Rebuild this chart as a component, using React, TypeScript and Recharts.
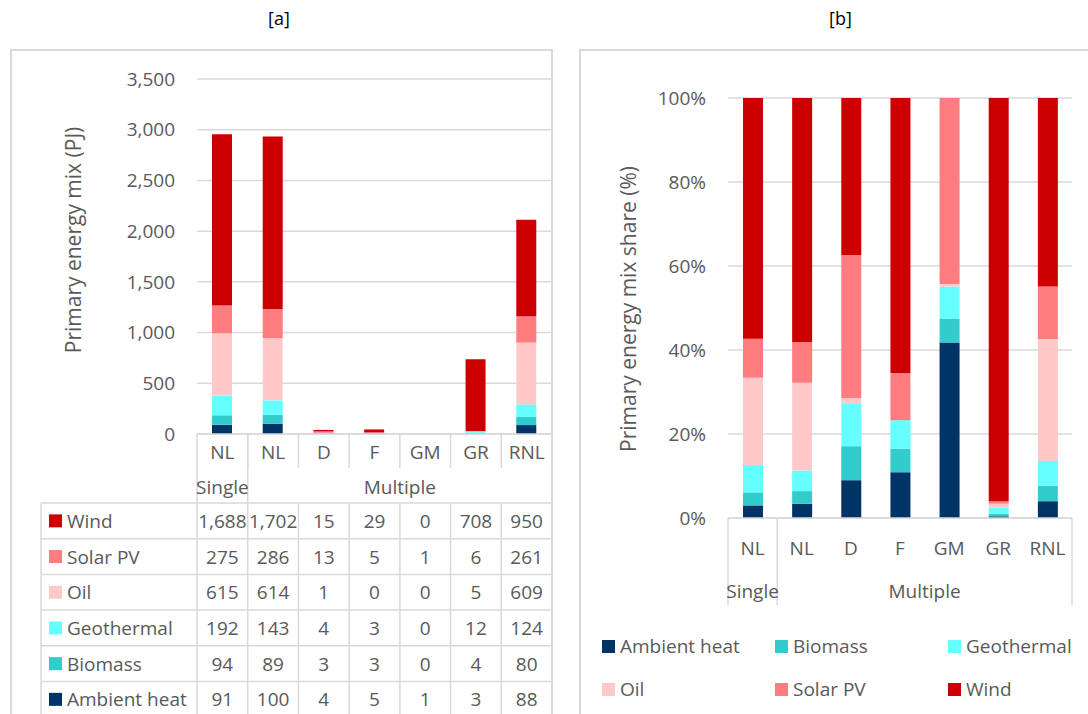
import { Bar, BarChart, CartesianGrid, XAxis, YAxis } from "recharts";

const GRID = "#d9d9d9";
const TEXT = "#595959";
const FONT = "'Open Sans', sans-serif";

const categories = ["NL", "NL", "D", "F", "GM", "GR", "RNL"];
const groups = ["Single", "Multiple"];

// stacking order, bottom to top
const series = [
  { key: "ambient", name: "Ambient heat", color: "#003366" },
  { key: "biomass", name: "Biomass", color: "#33CCCC" },
  { key: "geothermal", name: "Geothermal", color: "#66FFFF" },
  { key: "oil", name: "Oil", color: "#FFC9C9" },
  { key: "solar", name: "Solar PV", color: "#FF7C80" },
  { key: "wind", name: "Wind", color: "#CC0000" },
];

// [a] primary energy mix, PJ
const windPJ = [1688, 1702, 15, 29, 0, 708, 950];
const solarPJ = [275, 286, 13, 5, 1, 6, 261];
const oilPJ = [615, 614, 1, 0, 0, 5, 609];
const geothermalPJ = [192, 143, 4, 3, 0, 12, 124];
const biomassPJ = [94, 89, 3, 3, 0, 4, 80];
const ambientPJ = [91, 100, 4, 5, 1, 3, 88];

// [b] shares, %
const windShare = [57.3, 58.1, 37.4, 65.5, 0, 96.0, 44.9];
const solarShare = [9.3, 9.7, 34.0, 11.2, 44.3, 0.6, 12.5];
const oilShare = [20.8, 20.9, 1.3, 0, 0.6, 0.9, 29.0];
const geothermalShare = [6.5, 4.9, 10.2, 6.8, 7.6, 1.5, 5.9];
const biomassShare = [3.1, 3.0, 8.1, 5.6, 5.7, 0.6, 3.7];
const ambientShare = [3.0, 3.4, 9.0, 10.9, 41.8, 0.4, 4.0];

const pjTicks = [0, 500, 1000, 1500, 2000, 2500, 3000, 3500];
const shareTicks = [0, 20, 40, 60, 80, 100];

const pjBy: Record<string, number[]> = {
  ambient: ambientPJ,
  biomass: biomassPJ,
  geothermal: geothermalPJ,
  oil: oilPJ,
  solar: solarPJ,
  wind: windPJ,
};
const shareBy: Record<string, number[]> = {
  ambient: ambientShare,
  biomass: biomassShare,
  geothermal: geothermalShare,
  oil: oilShare,
  solar: solarShare,
  wind: windShare,
};

const build = (src: Record<string, number[]>) =>
  categories.map((_, i) => {
    const row: Record<string, number | string> = { id: String(i) };
    series.forEach((s) => (row[s.key] = src[s.key][i]));
    return row;
  });

const dataA = build(pjBy);
const dataB = build(shareBy);

// panel [a] geometry (chart-local)
const A_W = 541;
const A_H = 664;
const A_YW = 186;
const A_TOP = 29;
const A_AXIS = 384;
const A_BAND = (A_W - A_YW) / 7;
const ROW_TOP = 453;
const ROW_H = 35.7;
const TABLE_LEFT = 30;

// panel [b] geometry
const B_W = 508;
const B_H = 664;
const B_YW = 148;
const B_TOP = 48;
const B_RIGHT = 16;
const B_AXIS = 468;
const B_BAND = (B_W - B_YW - B_RIGHT) / 7;

const fmt = (v: number) => v.toLocaleString("en-US");

function TableTick(props: any) {
  const { x, payload } = props;
  const i: number = props.index ?? payload.index;
  const xl = x - A_BAND / 2;
  const xr = x + A_BAND / 2;
  const bottom = A_H + 10;
  const rows = [...series].reverse();
  const ln = { stroke: GRID, strokeWidth: 1.5 };
  const txt = { fontSize: 19, fill: TEXT, fontFamily: FONT, dominantBaseline: "central" as const };
  return (
    <g>
      <text x={x} y={A_AXIS + 18} textAnchor="middle" {...txt}>
        {categories[i]}
      </text>
      {i < 6 && <line x1={xr} x2={xr} y1={A_AXIS} y2={A_AXIS + 34} {...ln} />}
      <line x1={xr} x2={xr} y1={i === 0 || i === 6 ? A_AXIS : ROW_TOP} y2={bottom} {...ln} />
      {i === 0 && (
        <g>
          <line x1={xl} x2={xl} y1={A_AXIS} y2={bottom} {...ln} />
          <line x1={TABLE_LEFT} x2={TABLE_LEFT} y1={ROW_TOP} y2={bottom} {...ln} />
          {rows.map((_, k) => (
            <line key={k} x1={TABLE_LEFT} x2={A_W} y1={ROW_TOP + k * ROW_H} y2={ROW_TOP + k * ROW_H} {...ln} />
          ))}
          <line x1={TABLE_LEFT} x2={A_W} y1={ROW_TOP + 6 * ROW_H} y2={ROW_TOP + 6 * ROW_H} {...ln} />
          {rows.map((s, k) => (
            <g key={s.key}>
              <rect x={TABLE_LEFT + 8} y={ROW_TOP + k * ROW_H + ROW_H / 2 - 6.5} width={13} height={13} fill={s.color} />
              <text x={TABLE_LEFT + 26} y={ROW_TOP + k * ROW_H + ROW_H / 2} {...txt}>
                {s.name}
              </text>
            </g>
          ))}
          <text x={x} y={A_AXIS + 53} textAnchor="middle" {...txt}>
            {groups[0]}
          </text>
        </g>
      )}
      {i === 1 && (
        <text x={xl + 3 * A_BAND} y={A_AXIS + 53} textAnchor="middle" {...txt}>
          {groups[1]}
        </text>
      )}
      {rows.map((s, k) => (
        <text key={s.key} x={x} y={ROW_TOP + k * ROW_H + ROW_H / 2} textAnchor="middle" {...txt}>
          {fmt(pjBy[s.key][i])}
        </text>
      ))}
    </g>
  );
}

function GroupTick(props: any) {
  const { x, payload } = props;
  const i: number = props.index ?? payload.index;
  const xl = x - B_BAND / 2;
  const xr = x + B_BAND / 2;
  const ln = { stroke: GRID, strokeWidth: 1.5 };
  const txt = { fontSize: 19, fill: TEXT, fontFamily: FONT, dominantBaseline: "central" as const };
  return (
    <g>
      <text x={x} y={B_AXIS + 30} textAnchor="middle" {...txt}>
        {categories[i]}
      </text>
      {i === 0 && (
        <g>
          <line x1={xl} x2={xl} y1={B_AXIS} y2={B_AXIS + 87} {...ln} />
          <line x1={xr} x2={xr} y1={B_AXIS} y2={B_AXIS + 87} {...ln} />
          <text x={x} y={B_AXIS + 73} textAnchor="middle" {...txt}>
            {groups[0]}
          </text>
        </g>
      )}
      {i === 1 && (
        <text x={xl + 3 * B_BAND} y={B_AXIS + 73} textAnchor="middle" {...txt}>
          {groups[1]}
        </text>
      )}
      {i === 6 && <line x1={xr} x2={xr} y1={B_AXIS} y2={B_AXIS + 87} {...ln} />}
    </g>
  );
}

const abs = (left: number, top: number): React.CSSProperties => ({ position: "absolute", left, top });

function VTitle({ cx, cy, text }: { cx: number; cy: number; text: string }) {
  return (
    <div
      style={{
        ...abs(cx, cy),
        transform: "translate(-50%, -50%) rotate(-90deg)",
        whiteSpace: "nowrap",
        fontSize: 21,
        color: TEXT,
      }}
    >
      {text}
    </div>
  );
}

const legendOrder = ["ambient", "biomass", "geothermal", "oil", "solar", "wind"];
const legendCols = [602, 775, 948];
const legendRows = [646, 689];

export default function App() {
  return (
    <div
      style={{
        position: "absolute",
        left: 0,
        top: 0,
        width: 1088,
        height: 714,
        overflow: "hidden",
        background: "#fff",
        fontFamily: FONT,
      }}
    >
      <div style={{ ...abs(268, 6), fontSize: 18, color: "#000" }}>[a]</div>
      <div style={{ ...abs(829, 6), fontSize: 18, color: "#000" }}>[b]</div>

      <div style={{ ...abs(10, 49), width: 543, height: 700, border: `2px solid ${GRID}`, boxSizing: "border-box" }} />
      <div style={{ ...abs(579, 49), width: 600, height: 700, border: `2px solid ${GRID}`, boxSizing: "border-box" }} />

      <div style={abs(11, 50)}>
        <BarChart width={A_W} height={A_H} data={dataA} margin={{ top: A_TOP, right: 0, left: 0, bottom: 0 }} barSize={20}>
          <CartesianGrid vertical={false} stroke={GRID} strokeWidth={1.5} />
          <YAxis
            width={A_YW}
            domain={[0, 3500]}
            ticks={pjTicks}
            tickFormatter={fmt}
            axisLine={false}
            tickLine={false}
            tickMargin={16}
            tick={{ fontSize: 19, fill: TEXT, fontFamily: FONT }}
          />
          <XAxis
            dataKey="id"
            height={A_H - A_AXIS}
            interval={0}
            axisLine={{ stroke: GRID, strokeWidth: 1.5 }}
            tickLine={false}
            tick={<TableTick />}
          />
          {series.map((s) => (
            <Bar key={s.key} dataKey={s.key} name={s.name} stackId="a" fill={s.color} isAnimationActive={false} />
          ))}
        </BarChart>
      </div>
      <VTitle cx={73} cy={240} text="Primary energy mix (PJ)" />

      <div style={abs(580, 50)}>
        <BarChart width={B_W} height={B_H} data={dataB} margin={{ top: B_TOP, right: B_RIGHT, left: 0, bottom: 0 }} barSize={20}>
          <CartesianGrid vertical={false} stroke={GRID} strokeWidth={1.5} />
          <YAxis
            width={B_YW}
            domain={[0, 100]}
            ticks={shareTicks}
            tickFormatter={(v: number) => `${v}%`}
            axisLine={false}
            tickLine={false}
            tickMargin={16}
            tick={{ fontSize: 19, fill: TEXT, fontFamily: FONT }}
          />
          <XAxis
            dataKey="id"
            height={B_H - B_AXIS}
            interval={0}
            axisLine={{ stroke: GRID, strokeWidth: 1.5 }}
            tickLine={false}
            tick={<GroupTick />}
          />
          {series.map((s) => (
            <Bar key={s.key} dataKey={s.key} name={s.name} stackId="b" fill={s.color} isAnimationActive={false} />
          ))}
        </BarChart>
      </div>
      <VTitle cx={628} cy={309} text="Primary energy mix share (%)" />

      {legendOrder.map((k, n) => {
        const s = series.find((e) => e.key === k)!;
        const left = legendCols[n % 3];
        const top = legendRows[Math.floor(n / 3)];
        return (
          <div key={k} style={{ ...abs(left, top - 13), display: "flex", alignItems: "center", height: 26 }}>
            <span style={{ width: 13, height: 13, background: s.color, display: "inline-block", marginRight: 5 }} />
            <span style={{ fontSize: 19, color: TEXT, whiteSpace: "nowrap" }}>{s.name}</span>
          </div>
        );
      })}
    </div>
  );
}
